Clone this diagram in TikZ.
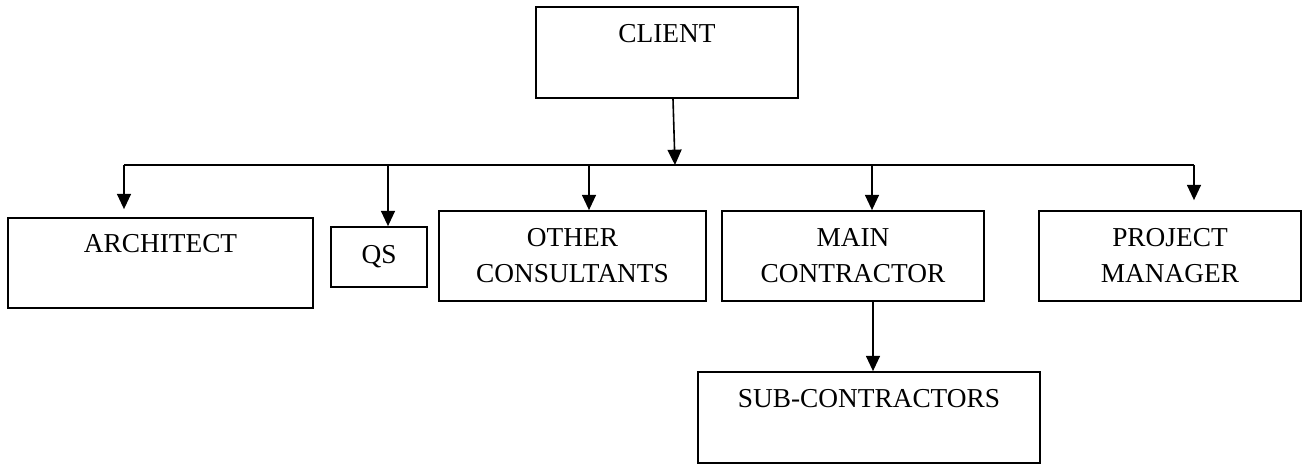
\documentclass[tikz,border=0pt]{standalone}
\usepackage{fontspec}
\setmainfont{Liberation Serif}
\usetikzlibrary{arrows.meta}

\begin{document}
\begin{tikzpicture}%
    [x=0.75pt, y=-0.75pt,
    box/.style={rectangle, draw=black, line width=1.3pt, inner sep=0pt, align=center,
                font=\fontsize{20.5}{27}\selectfont},
    link/.style={line width=1.2pt},
    arrow/.style={link, -{Triangle[width=10.5pt,length=11.5pt]}}]

    \useasboundingbox (0,0) rectangle (1304,464);

    \node [box, minimum width=196.5pt, minimum height=68.25pt] (client) at (667,52.5) {CLIENT\\[-6pt] \strut};

    \node [box, minimum width=228.75pt, minimum height=67.5pt] (arch)  at (160.5,263) {ARCHITECT\\[-6pt] \strut};
    \node [box, minimum width=72pt,     minimum height=45pt]   (qs)    at (379,257)   {QS};
    \node [box, minimum width=200.25pt, minimum height=67.5pt] (other) at (572.5,256) {OTHER\\CONSULTANTS};
    \node [box, minimum width=196.5pt,  minimum height=67.5pt] (main)  at (853,256)   {MAIN\\CONTRACTOR};
    \node [box, minimum width=196.5pt,  minimum height=67.5pt] (pm)    at (1170,256)  {PROJECT\\MANAGER};

    \node [box, minimum width=256.5pt, minimum height=68.25pt] (sub) at (869,417.5) {SUB-CONTRACTORS\\[-6pt] \strut};

    % the bus line under the client
    \coordinate (hub)   at (675,165);
    \coordinate (busL)  at (124,165);
    \coordinate (busQ)  at (388,165);
    \coordinate (busO)  at (589,165);
    \coordinate (busM)  at (872,165);
    \coordinate (busR)  at (1194,165);

    \draw [arrow] ([xshift=4.5pt]client.south) to (hub);
    \draw [link] (busL) to (busR);

    \draw [arrow] (busL) to ([yshift=6pt]arch.north -| busL);
    \draw [arrow] (busQ) to (qs.north -| busQ);
    \draw [arrow] (busO) to (other.north -| busO);
    \draw [arrow] (busM) to (main.north -| busM);
    \draw [arrow] (busR) to ([yshift=7.5pt]pm.north -| busR);

    \draw [arrow] ([xshift=15pt]main.south) to ([xshift=3pt]sub.north);
  \end{tikzpicture}
\end{document}
